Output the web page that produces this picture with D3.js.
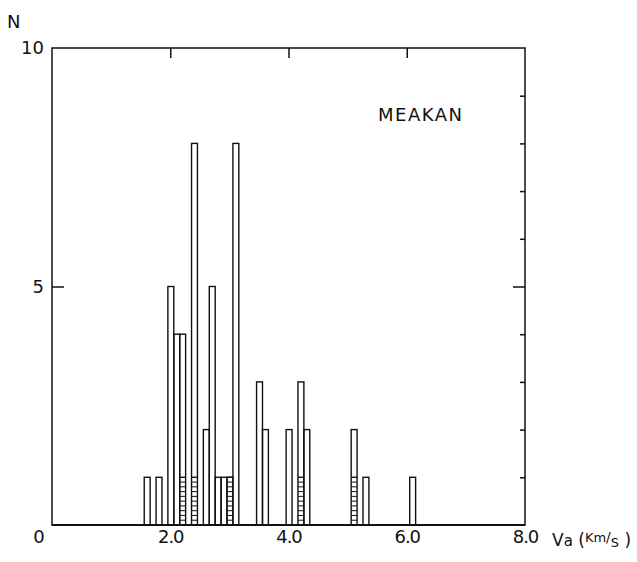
<!DOCTYPE html>
<html>
<head>
<meta charset="utf-8">
<script src="https://cdn.jsdelivr.net/npm/d3@7"></script>
<style>
  body { margin: 0; background: #fff; }
  text { font-family: "DejaVu Sans", sans-serif; fill: #111; }
</style>
</head>
<body>
<svg class="chart"></svg>
<script>
const width = 637,
      height = 562,
      margin = { left: 52, right: 112, top: 48, bottom: 37 }

// bin left edges (km/s), bin width 0.1
const binStart = [1.56, 1.76, 1.96, 2.06, 2.16, 2.36, 2.56, 2.66, 2.76, 2.86, 2.96, 3.06,
                  3.46, 3.56, 3.96, 4.16, 4.26, 5.06, 5.26, 6.05]
const counts   = [1, 1, 5, 4, 4, 8, 2, 5, 1, 1, 1, 8, 3, 2, 2, 3, 2, 2, 1, 1]
const hatched  = [0, 0, 0, 0, 1, 1, 0, 0, 0, 0, 1, 0, 0, 0, 0, 1, 0, 1, 0, 0]
const binWidth = 0.1

const xTicks = [2, 4, 6, 8],
      yLabels = [5, 10],
      yMinor = [1, 2, 3, 4, 5, 6, 7, 8, 9]

const bins = binStart.map((s, i) => ({ x0: s, x1: s + binWidth, n: counts[i], h: hatched[i] }))

var chart = d3.select(".chart")
    .attr("width", width)
    .attr("height", height)

var x = d3.scaleLinear().domain([0, 8]).range([margin.left, width - margin.right])
var y = d3.scaleLinear().domain([0, 10]).range([height - margin.bottom, margin.top])

// bars
var bar = chart.append("g")
  .selectAll("rect")
  .data(bins)
  .enter()
  .append("rect")
    .attr("x", d => x(d.x0))
    .attr("y", d => y(d.n))
    .attr("width", d => x(d.x1) - x(d.x0))
    .attr("height", d => y(0) - y(d.n))
    .style("fill", "none")
    .style("stroke", "#111")
    .style("stroke-width", 1.4)

// hatched part of bars
var hatch = chart.append("g")
  .selectAll("g")
  .data(bins.filter(d => d.h > 0))
  .enter()
  .append("g")

hatch.append("line")
    .attr("x1", d => x(d.x0)).attr("x2", d => x(d.x1))
    .attr("y1", d => y(d.h)).attr("y2", d => y(d.h))
    .style("stroke", "#111").style("stroke-width", 1.4)

hatch.selectAll(".h")
  .data(d => d3.range(1, 10).map(k => ({ x0: d.x0, x1: d.x1, v: d.h * k / 10 })))
  .enter()
  .append("line")
    .attr("x1", d => x(d.x0)).attr("x2", d => x(d.x1))
    .attr("y1", d => y(d.v)).attr("y2", d => y(d.v))
    .style("stroke", "#111").style("stroke-width", 1)

// frame
chart.append("rect")
    .attr("x", x(0)).attr("y", y(10))
    .attr("width", x(8) - x(0)).attr("height", y(0) - y(10))
    .style("fill", "none").style("stroke", "#111").style("stroke-width", 1.5)

chart.append("line")
    .attr("x1", x(0)).attr("x2", x(8))
    .attr("y1", y(0)).attr("y2", y(0))
    .style("stroke", "#111").style("stroke-width", 2)

// top ticks (inward)
chart.append("g")
    .attr("transform", `translate(0,${y(10)})`)
    .call(d3.axisBottom(x).tickValues([2, 4, 6]).tickSize(10).tickFormat(""))
    .call(g => g.select(".domain").remove())

// right ticks (inward)
chart.append("g")
    .attr("transform", `translate(${x(8)},0)`)
    .call(d3.axisLeft(y).tickValues(yMinor).tickSize(5).tickFormat(""))
    .call(g => g.select(".domain").remove())
    .call(g => g.selectAll(".tick line").filter(d => d === 5).attr("x2", -12))

// left tick at 5 (inward)
chart.append("g")
    .attr("transform", `translate(${x(0)},0)`)
    .call(d3.axisRight(y).tickValues([5]).tickSize(12).tickFormat(""))
    .call(g => g.select(".domain").remove())

chart.selectAll(".tick line").style("stroke", "#111").style("stroke-width", 1.5)

// labels
chart.append("g")
    .attr("transform", `translate(${x(0)},0)`)
    .call(d3.axisLeft(y).tickValues(yLabels).tickSize(0).tickPadding(8).tickFormat(d3.format("d")))
    .call(g => g.select(".domain").remove())
    .selectAll("text").style("font-size", "18px").style("font-family", "DejaVu Sans")

chart.append("g")
    .attr("transform", `translate(0,${y(0)})`)
    .call(d3.axisBottom(x).tickValues(xTicks).tickSize(0).tickPadding(5).tickFormat(d3.format(".1f")))
    .call(g => g.select(".domain").remove())
    .selectAll("text").style("font-size", "18px").style("font-family", "DejaVu Sans")
      .attr("letter-spacing", "-1px")

chart.append("text")
    .attr("x", 39).attr("y", 543)
    .attr("text-anchor", "middle")
    .style("font-size", "18px")
    .text("0")

chart.append("text")
    .attr("x", 7).attr("y", 28)
    .style("font-size", "18px")
    .text("N")

chart.append("text")
    .attr("x", 378).attr("y", 121)
    .style("font-size", "18px")
    .attr("letter-spacing", "1.5px")
    .text("MEAKAN")

var unit = chart.append("text")
    .attr("x", 552).attr("y", 546)
    .style("font-size", "17px")
unit.append("tspan").text("V")
unit.append("tspan").style("font-size", "15px").text("a")
unit.append("tspan").text(" (")
unit.append("tspan").attr("dy", -4).style("font-size", "13px").text("Km")
unit.append("tspan").style("font-size", "14px").text("/")
unit.append("tspan").attr("dy", 5).style("font-size", "13px").text("S")
unit.append("tspan").attr("dy", -1).text("  )")
</script>
</body>
</html>
